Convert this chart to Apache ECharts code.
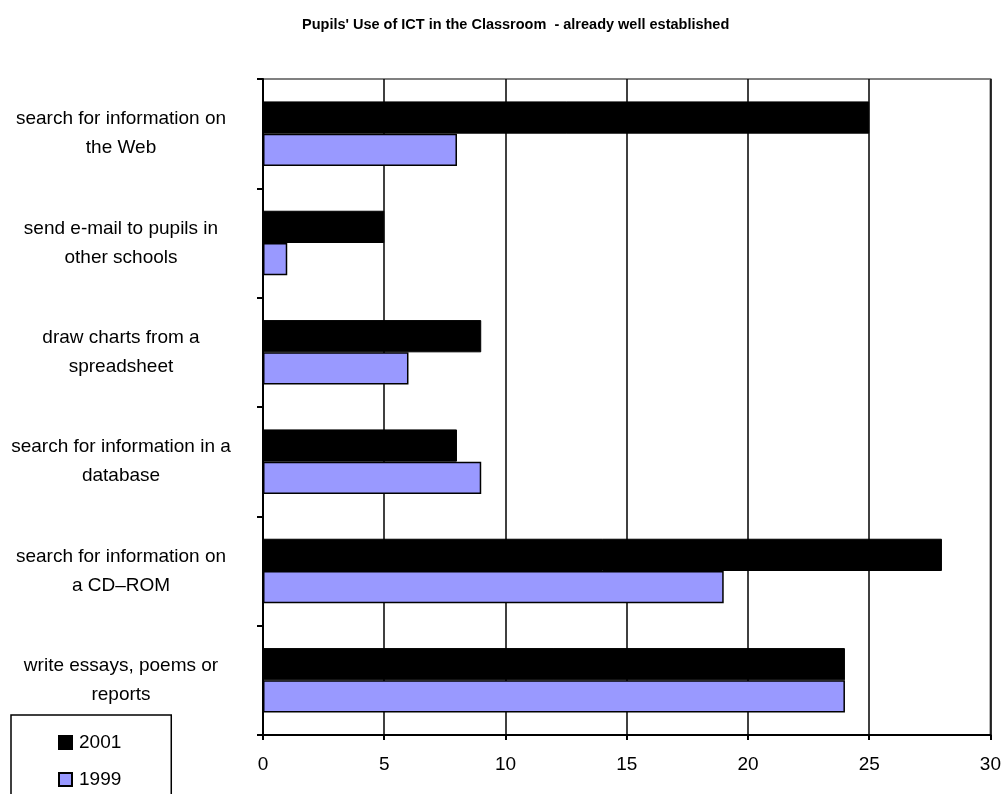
<!DOCTYPE html>
<html>
<head>
<meta charset="utf-8">
<script src="https://cdn.jsdelivr.net/npm/echarts@6/dist/echarts.min.js"></script>
<style>
  html, body { margin: 0; padding: 0; background: #fff; }
  #chart { width: 1004px; height: 794px; }
</style>
</head>
<body>
<div id="chart"></div>
<script>
// Activities, listed top to bottom
const categories = [
  'search for information on\nthe Web',
  'send e-mail to pupils in\nother schools',
  'draw charts from a\nspreadsheet',
  'search for information in a\ndatabase',
  'search for information on\na CD\u2013ROM',
  'write essays, poems or\nreports'
];
const values2001 = [25, 5, 9, 8, 28, 24];
const values1999 = [8, 1, 6, 9, 19, 24];
const xTicks = { min: 0, max: 30, interval: 5 };

const FONT = '"Liberation Sans", Arial, sans-serif';
const chart = echarts.init(document.getElementById('chart'), null, { renderer: 'canvas' });

chart.setOption({
  backgroundColor: '#ffffff',
  animation: false,
  title: {
    text: "Pupils' Use of ICT in the Classroom  - already well established",
    left: 302,
    top: 17,
    padding: 0,
    textStyle: { fontFamily: FONT, fontSize: 14.5, fontWeight: 'bold', color: '#000' }
  },
  legend: {
    orient: 'vertical',
    left: 11,
    top: 715,
    height: 120,
    padding: [17, 50, 30, 47],
    itemGap: 16,
    itemWidth: 13,
    itemHeight: 13,
    borderColor: '#000',
    borderWidth: 1.5,
    icon: 'rect',
    textStyle: { fontFamily: FONT, fontSize: 19, color: '#000', lineHeight: 21, padding: [0, 0, 0, 2] },
    data: ['2001', '1999']
  },
  grid: {
    left: 263,
    right: 10,
    top: 79,
    bottom: 59,
    show: true,
    borderColor: '#808080',
    borderWidth: 2,
    containLabel: false
  },
  xAxis: {
    type: 'value',
    min: xTicks.min,
    max: xTicks.max,
    interval: xTicks.interval,
    axisLine: { show: true, lineStyle: { color: '#000', width: 2 } },
    axisTick: { show: true, inside: false, length: 5, lineStyle: { color: '#000', width: 2 } },
    axisLabel: { margin: 20, color: '#000', fontFamily: FONT, fontSize: 19 },
    splitLine: { show: true, lineStyle: { color: '#000', width: 1.5 } }
  },
  yAxis: {
    type: 'category',
    inverse: true,
    data: categories,
    axisLine: { show: true, lineStyle: { color: '#000', width: 2 } },
    axisTick: { show: true, inside: false, length: 6, lineStyle: { color: '#000', width: 2 } },
    axisLabel: {
      margin: 142,
      align: 'center',
      color: '#000',
      fontFamily: FONT,
      fontSize: 19,
      lineHeight: 29
    },
    splitLine: { show: false }
  },
  series: [
    {
      name: '2001',
      type: 'bar',
      data: values2001,
      barGap: '0%',
      barCategoryGap: '41%',
      itemStyle: { color: '#000000', borderColor: '#000000', borderWidth: 1 }
    },
    {
      name: '1999',
      type: 'bar',
      data: values1999,
      barGap: '0%',
      barCategoryGap: '41%',
      itemStyle: { color: '#9999ff', borderColor: '#000000', borderWidth: 1.5 }
    }
  ]
});
</script>
</body>
</html>
